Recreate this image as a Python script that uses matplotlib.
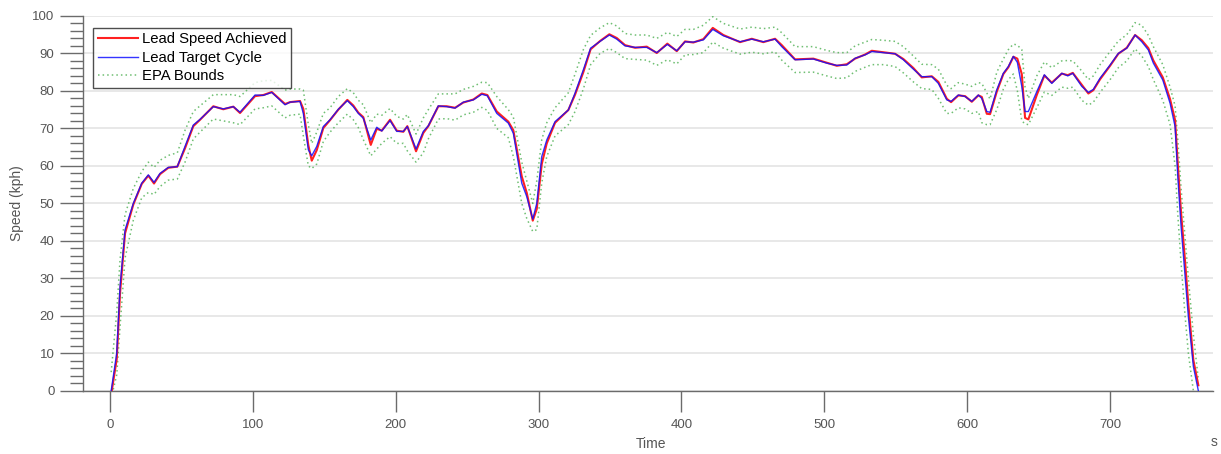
import matplotlib
matplotlib.use("Agg")
import matplotlib.pyplot as plt
from matplotlib.ticker import MultipleLocator

plt.rcParams.update({
    "font.family": ["Liberation Sans", "DejaVu Sans"],
    "font.size": 9,
})

# ---------------------------------------------------------------------------
# data
# ---------------------------------------------------------------------------
time_s = [
    0.8, 4.7, 7, 10.5, 16.3, 22.2, 26.8, 30.8, 35, 40.8, 47.1, 52.5, 58.3, 63,
    72.3, 79.3, 86.3, 91, 101.5, 107.3, 113.2, 122.5, 126, 133, 135.3, 138.8,
    141.2, 144.7, 149.3, 154, 159.8, 166.1, 170.3, 173.8, 177.3, 182.5, 186.7,
    190.2, 196, 200.7, 205.3, 208.1, 214.2, 219.3, 222.8, 229.8, 235.7, 241.5,
    247.3, 254.3, 260.2, 264.1, 270.7, 278.8, 282.3, 288.2, 291.7, 295.9,
    298.7, 302.2, 305.7, 311.5, 320.8, 325.5, 331.3, 336.4, 343, 349.5, 354.7,
    360.5, 367.5, 375.7, 382.7, 390.1, 396.7, 402.5, 408.3, 415.3, 421.9,
    429.3, 441, 449.2, 457.3, 465.5, 470.2, 479.5, 492.3, 501.7, 508.7, 515.7,
    521.5, 528.5, 533.2, 541.3, 549.5, 555.3, 562.3, 568.2, 575.2, 579.8,
    585.7, 588.7, 593.8, 598.5, 603.2, 607.8, 610.2, 613.7, 616, 620.7, 625.3,
    628.8, 632.3, 635.1, 638.2, 640.5, 642.8, 648.7, 654, 659.2, 666.2, 670.4,
    673.9, 680.2, 684.8, 688.3, 693, 700, 705.8, 711.7, 717.5, 722.2, 726.8,
    730.3, 736.9, 742, 745.5, 747.4, 749.7, 752.5, 754.8, 758.3, 761.8,
]

target_kph = [
    0, 10.1, 27.8, 42.9, 50, 55.4, 57.6, 55.6, 58, 59.6, 59.8, 65.2, 70.9, 72.4,
    75.8, 75.2, 75.8, 74.3, 78.9, 78.8, 79.6, 76.3, 77, 77.2, 74, 64.3,
    62.7, 65.2, 70.5, 72.3, 75.1, 77.4, 75.8, 74, 72.7, 66.9, 70.3,
    69.3, 72.1, 69.2, 69.2, 70.5, 64.5, 69.2, 70.7, 76, 75.8, 75.4,
    77, 77.6, 79.1, 78.7, 74, 71.4, 68.7, 55.4, 51.8, 45.8,
    50, 62.5, 66.9, 71.8, 74.9, 79.4, 85.6, 91.4, 93.2, 94.9, 93.8,
    92, 91.6, 91.6, 90.2, 92.4, 90.7, 93.1, 93, 93.6, 96.4,
    94.7, 93.1, 93.8, 93.1, 93.8, 91.8, 88.3, 88.5, 87.4, 86.8, 86.9,
    88.7, 89.6, 90.5, 90.2, 89.9, 88.3, 85.8, 83.8, 83.8, 82,
    77.6, 77.2, 78.9, 78.5, 77.2, 78.9, 78, 74.5, 74.3, 80.3, 84.7,
    86.5, 89.2, 87.6, 81.2, 74.5, 74.5, 79.8, 84.3, 82, 84.7, 84,
    84.7, 81.2, 79.6, 80.4, 83.4, 86.9, 90, 91.4, 94.9, 93.1, 90.9,
    87.4, 82.9, 76.7, 70.5, 57.1, 43.8, 30.5, 19.8, 6.5, 0,
]

achieved_kph = [
    -1, 8.5, 26, 42, 49.7, 55.2, 57.4, 55.3, 57.8, 59.5, 59.8, 64.7, 70.6, 72.3,
    75.9, 75.1, 75.8, 74.1, 78.6, 78.9, 79.7, 76.5, 77, 77.3, 75.2, 65.5,
    61.4, 64.2, 70.1, 72.2, 75, 77.6, 76.1, 74.2, 73, 65.6, 69.9,
    69.4, 72.3, 69.4, 69.1, 70.6, 63.9, 68.8, 70.6, 75.9, 75.9, 75.5,
    76.9, 77.7, 79.3, 78.9, 74.5, 71.8, 69.5, 57.2, 52.8, 45.4,
    48.5, 60.5, 66, 71.5, 74.9, 79, 85, 91.1, 93.3, 95.1, 94.1,
    92.2, 91.5, 91.8, 90.1, 92.6, 90.6, 93.2, 92.9, 93.8, 96.8,
    94.9, 93, 93.9, 93, 93.9, 92.2, 88.4, 88.6, 87.5, 86.7, 87.1,
    88.6, 89.7, 90.7, 90.3, 89.9, 88.5, 86.1, 83.6, 83.9, 82.4,
    77.9, 77, 78.8, 78.6, 77.1, 78.8, 78.4, 73.9, 73.8, 79.8, 84.5,
    86.3, 89.1, 88.6, 84.5, 72.8, 72.4, 78.9, 84.1, 82.2, 84.6, 84.2,
    84.8, 81.6, 79.3, 80.2, 83.1, 86.7, 89.9, 91.5, 94.9, 93.5, 91.4,
    88.1, 83.6, 77.8, 72.2, 60.5, 47.5, 34.5, 23, 8.2, 1.5,
]

epa_upper_kph = [
    5, 21, 35, 47, 54, 58.5, 61, 59.6, 61.5, 62.8, 63.5, 69.5, 74.5, 76,
    79, 79, 79, 78.5, 82.2, 82.7, 82.8, 80.2, 80.5, 80.5, 80.2, 71,
    66, 69, 74, 75.5, 78.5, 80.6, 79.5, 77.5, 76.3, 71.5, 73.8,
    73.5, 75.3, 73.2, 72.5, 73.7, 68.5, 72.8, 75, 79.2, 79.2, 79.2,
    80.4, 81.2, 82.3, 82.2, 78.5, 75, 73, 61, 56, 50,
    56, 67, 71.5, 75.5, 79.5, 84.5, 91, 94.8, 96.8, 98.2, 97.3,
    95.3, 94.9, 94.9, 94, 95.6, 94.5, 96.4, 96.4, 97.5, 99.8,
    98, 96.5, 97, 96.6, 97, 95.5, 91.8, 91.8, 90.8, 90.2, 90.2,
    92, 93, 93.7, 93.5, 93.2, 91.8, 89.3, 87.1, 87, 85.8,
    81.5, 80.6, 82.2, 81.8, 81.2, 82.2, 82, 79.5, 77.8, 85, 88.5,
    91, 92.5, 92.2, 91, 81, 78, 84, 87.7, 86.2, 88, 88.1,
    88, 85.3, 83, 84, 87, 90.5, 93.3, 95, 98.2, 97.5, 94.8,
    91.8, 87, 81, 76, 67, 54, 41, 30, 15, 3,
]

epa_lower_kph = [
    -2, 4.3, 17, 35.4, 45.5, 51.5, 52.9, 52.4, 54.5, 56.2, 56.5, 61, 67.2, 69,
    72.5, 72, 71.5, 71, 75.2, 75.5, 76, 72.8, 73.5, 73.8, 68, 60,
    59.3, 60.5, 66.5, 69, 71.5, 73.8, 72.3, 70.2, 67, 62.7, 64.5,
    66, 67.8, 66, 66, 64, 61, 63.5, 67.2, 72.5, 72.6, 72.2,
    73.6, 74.3, 75.6, 74.8, 70, 67.5, 62.5, 50, 46, 42.5,
    43, 55.5, 62.5, 68, 71, 74.5, 80.5, 87, 90, 91.3, 90.2,
    88.6, 88.4, 88.2, 86.8, 88.3, 87.2, 89.6, 89.7, 90.2, 93,
    91.4, 89.8, 90.3, 89.9, 90.4, 88.2, 84.9, 85, 84, 83.3, 83.5,
    85.2, 86.3, 87, 87, 86.5, 84.8, 82.4, 80.6, 80.4, 78,
    74, 74, 75.5, 75.2, 74, 74.5, 71.5, 71, 71, 75, 80.5,
    83, 84.5, 80, 72, 71.2, 71, 75.5, 79.7, 78.8, 81, 80.7,
    81, 77.5, 76.2, 77, 79.6, 83, 86.2, 88, 91.2, 89.3, 86.5,
    83, 77.5, 71, 60, 47, 34, 20, 10, 0, -3,
]

# ---------------------------------------------------------------------------
# plot
# ---------------------------------------------------------------------------
GRAY = "#6b6b6b"

fig = plt.figure(figsize=(12.21, 4.54), dpi=100)
ax = fig.add_axes([0.068, 0.139, 0.9254, 0.826])

ax.plot(time_s, epa_upper_kph, color="#4caf50", linestyle=(0, (1, 2)),
        linewidth=1.1, alpha=0.8, label="EPA Bounds", zorder=2)
ax.plot(time_s, epa_lower_kph, color="#4caf50", linestyle=(0, (1, 2)),
        linewidth=1.1, alpha=0.8, zorder=2)
ax.plot(time_s, achieved_kph, color="#ff2020", linewidth=1.5,
        label="Lead Speed Achieved", zorder=3)
ax.plot(time_s, target_kph, color="#1010ff", linewidth=1.0, alpha=0.85,
        label="Lead Target Cycle", zorder=4)

ax.set_xlim(-18.9, 772)
ax.set_ylim(0, 100)
ax.xaxis.set_major_locator(MultipleLocator(100))
ax.yaxis.set_major_locator(MultipleLocator(10))
ax.yaxis.set_minor_locator(MultipleLocator(2))

ax.grid(axis="y", color="#e4e4e4", linewidth=1.2)
ax.set_axisbelow(True)

for side in ("top", "right"):
    ax.spines[side].set_visible(False)
for side in ("left", "bottom"):
    ax.spines[side].set_color(GRAY)
    ax.spines[side].set_linewidth(1.0)

ax.tick_params(axis="x", which="major", direction="out", length=15,
               width=1.0, color=GRAY, labelcolor="#555555", labelsize=9.5, pad=5)
ax.tick_params(axis="y", which="major", direction="out", length=16.5,
               width=1.0, color=GRAY, labelcolor="#555555", labelsize=9.5, pad=4)
ax.tick_params(axis="y", which="minor", direction="out", length=9.5,
               width=1.0, color=GRAY)

ax.set_xlabel("Time", color="#555555", fontsize=10)
ax.set_ylabel("Speed (kph)", color="#555555", fontsize=10)
ax.xaxis.set_label_coords(0.503, -0.122)
ax.yaxis.set_label_coords(-0.052, 0.5)

fig.text(0.9915, 0.018, "s", color="#555555", fontsize=10, ha="left")

handles, labels = ax.get_legend_handles_labels()
order = [1, 2, 0]
leg = ax.legend([handles[i] for i in order], [labels[i] for i in order],
                loc="upper left", bbox_to_anchor=(0.009, 0.968), fontsize=10.7,
                frameon=True, fancybox=False, borderpad=0.3,
                labelspacing=0.3, handlelength=2.7, handletextpad=0.3,
                borderaxespad=0)
leg.get_frame().set_edgecolor("#222222")
leg.get_frame().set_linewidth(1.0)

fig.savefig("out.png", dpi=100)
